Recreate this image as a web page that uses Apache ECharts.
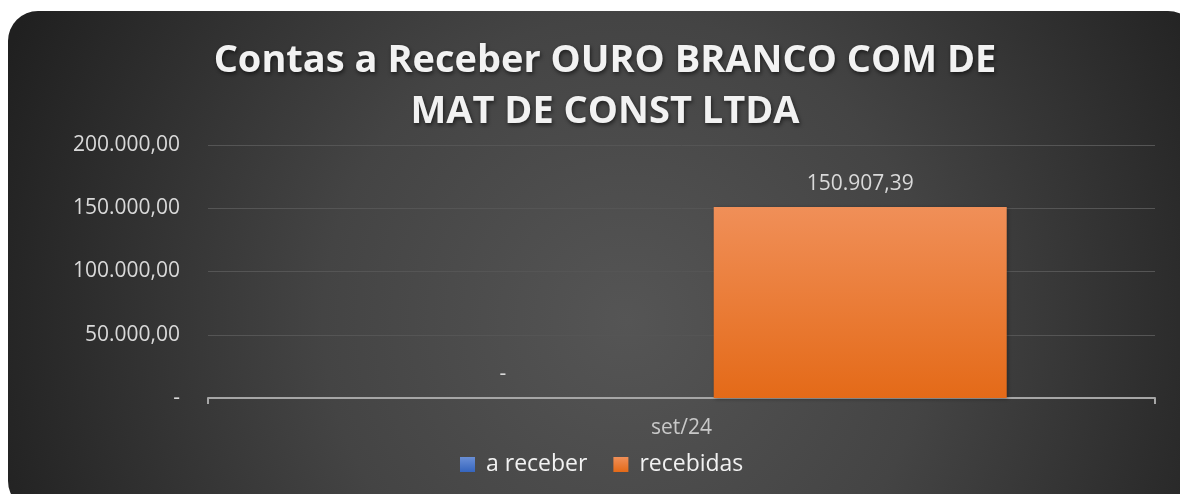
<!DOCTYPE html>
<html>
<head>
<meta charset="utf-8">
<script src="https://cdn.jsdelivr.net/npm/echarts@6/dist/echarts.min.js"></script>
<style>
  html, body { margin: 0; padding: 0; background: #fff; }
  #chart { width: 1180px; height: 494px; }
</style>
</head>
<body>
<div id="chart"></div>
<script>
// dados do gráfico
const categories = ['set/24']
const seriesNames = ['a receber', 'recebidas']
const aReceber = [0]
const recebidas = [150907.39]
const yTicks = [0, 50000, 100000, 150000, 200000]

// formata número no padrão pt-BR, zero vira '-'
const fmt = (v) => {
  if (!v) return '-'
  const parts = v.toFixed(2).split('.')
  const inteiro = parts[0].replace(/\B(?=(\d{3})+(?!\d))/g, '.')
  return inteiro + ',' + parts[1]
}

const chart = echarts.init(document.getElementById('chart'))

const barLabel = {
  show: true,
  position: 'top',
  distance: 13,
  color: '#d9d9d9',
  fontSize: 21,
  fontFamily: 'Open Sans',
  formatter: (p) => fmt(p.value)
}

const option = {
  backgroundColor: 'transparent',
  graphic: [
    {
      type: 'rect',
      z: -10,
      silent: true,
      shape: { x: 8, y: 11, width: 1190, height: 500, r: 30 },
      style: {
        fill: new echarts.graphic.RadialGradient(0.52, 0.62, 1.35, [
          { offset: 0, color: '#555555' },
          { offset: 0.45, color: '#444444' },
          { offset: 1, color: '#202020' }
        ])
      }
    }
  ],
  title: {
    text: 'Contas a Receber OURO BRANCO COM DE\nMAT DE CONST LTDA',
    left: 600,
    top: 31,
    textAlign: 'center',
    textStyle: {
      color: '#f2f2f2',
      fontFamily: 'Open Sans',
      fontWeight: 'bold',
      fontSize: 38,
      lineHeight: 51,
      textShadowColor: 'rgba(0,0,0,0.6)',
      textShadowBlur: 4,
      textShadowOffsetX: 1,
      textShadowOffsetY: 2
    }
  },
  legend: {
    data: seriesNames,
    bottom: 13,
    left: 455,
    itemWidth: 15,
    itemHeight: 15,
    itemGap: 26,
    icon: 'rect',
    textStyle: { color: '#f2f2f2', fontSize: 23, fontFamily: 'Open Sans', padding: [0, 0, 0, 6] }
  },
  grid: { left: 208, right: 25, top: 145, bottom: 96 },
  xAxis: {
    type: 'category',
    data: categories,
    axisLine: { lineStyle: { color: '#a6a6a6', width: 2 } },
    axisTick: { show: true, length: 6, lineStyle: { color: '#a6a6a6', width: 2 } },
    axisLabel: { color: '#c8c8c8', fontSize: 21, fontFamily: 'Open Sans', margin: 20 }
  },
  yAxis: {
    type: 'value',
    min: yTicks[0],
    max: yTicks[yTicks.length - 1],
    interval: yTicks[1] - yTicks[0],
    axisLine: { show: false },
    axisTick: { show: false },
    splitLine: { lineStyle: { color: '#555555', width: 1 } },
    axisLabel: {
      color: '#d9d9d9',
      fontSize: 21,
      fontFamily: 'Open Sans',
      margin: 28,
      formatter: (v) => fmt(v)
    }
  },
  series: [
    {
      name: seriesNames[0],
      type: 'bar',
      data: aReceber,
      barWidth: 293,
      barGap: '22%',
      itemStyle: {
        color: new echarts.graphic.LinearGradient(0, 0, 0, 1, [
          { offset: 0, color: '#6a8fd6' },
          { offset: 1, color: '#3565be' }
        ])
      },
      label: barLabel
    },
    {
      name: seriesNames[1],
      type: 'bar',
      data: recebidas,
      barWidth: 293,
      itemStyle: {
        color: new echarts.graphic.LinearGradient(0, 0, 0, 1, [
          { offset: 0, color: '#f08f58' },
          { offset: 1, color: '#e46a18' }
        ]),
        shadowColor: 'rgba(0,0,0,0.35)',
        shadowBlur: 4,
        shadowOffsetX: 1,
        shadowOffsetY: 1
      },
      label: barLabel
    }
  ]
}

chart.setOption(option)
</script>
</body>
</html>
